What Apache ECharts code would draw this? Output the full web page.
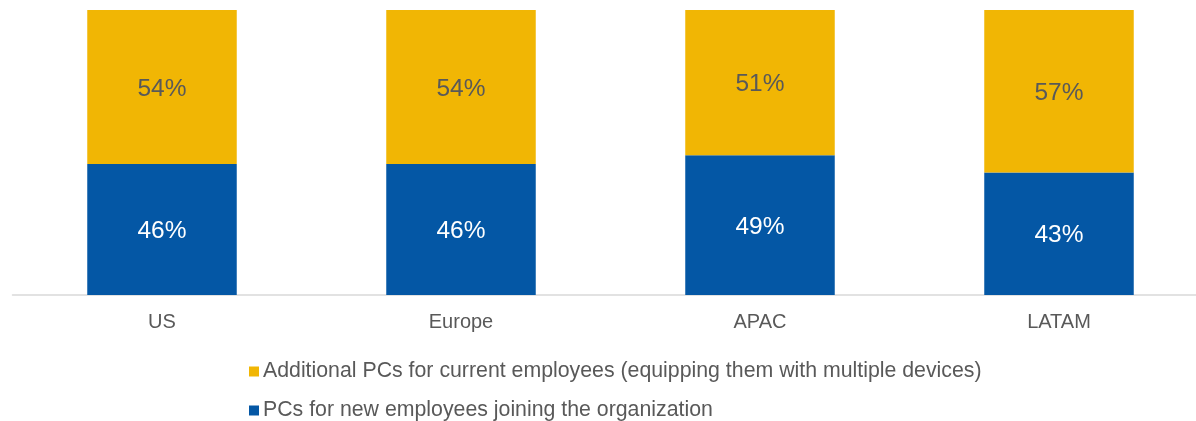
<!DOCTYPE html>
<html>
<head>
<meta charset="utf-8">
<script src="https://cdn.jsdelivr.net/npm/echarts@6/dist/echarts.min.js"></script>
<style>html,body{margin:0;padding:0;background:#fff;}#c{width:1196px;height:421px;}</style>
</head>
<body>
<div id="c"></div>
<script>
const categories = ['US', 'Europe', 'APAC', 'LATAM'];
const newEmployees = [46, 46, 49, 43];
const additionalPCs = [54, 54, 51, 57];
const seriesNames = ['PCs for new employees joining the organization', 'Additional PCs for current employees (equipping them with multiple devices)'];

const chart = echarts.init(document.getElementById('c'));
const font = 'Liberation Sans, Arial, sans-serif';
const legendBase = {
  orient: 'horizontal', left: 244, itemGap: 10,
  itemWidth: 10, itemHeight: 10, icon: 'rect',
  textStyle: { color: '#595959', fontSize: 21.3, fontFamily: font, padding: [0, 0, 0, -1] }
};
chart.setOption({
  animation: false,
  grid: { left: 12.5, width: 1196, top: 10, height: 285, containLabel: false, outerBoundsMode: 'none' },
  xAxis: {
    type: 'category', data: categories,
    axisLine: { lineStyle: { color: '#d9d9d9', width: 1.5 } },
    axisTick: { show: false },
    axisLabel: { color: '#595959', fontSize: 20, fontFamily: font, margin: 17 }
  },
  yAxis: { type: 'value', min: 0, max: 100, show: false, splitLine: { show: false } },
  legend: [
    Object.assign({}, legendBase, { top: 356, data: [seriesNames[1]] }),
    Object.assign({}, legendBase, { top: 395, data: [seriesNames[0]] })
  ],
  series: [
    {
      name: seriesNames[0], type: 'bar', stack: 's', data: newEmployees, barWidth: '50%',
      itemStyle: { color: '#0457A5' },
      label: { show: true, position: 'inside', offset: [0, 2], formatter: '{c}%', color: '#ffffff', fontSize: 24.5, fontFamily: font }
    },
    {
      name: seriesNames[1], type: 'bar', stack: 's', data: additionalPCs, barWidth: '50%',
      itemStyle: { color: '#F1B604' },
      label: { show: true, position: 'inside', offset: [0, 2], formatter: '{c}%', color: '#595959', fontSize: 24.5, fontFamily: font }
    }
  ]
});
</script>
</body>
</html>
